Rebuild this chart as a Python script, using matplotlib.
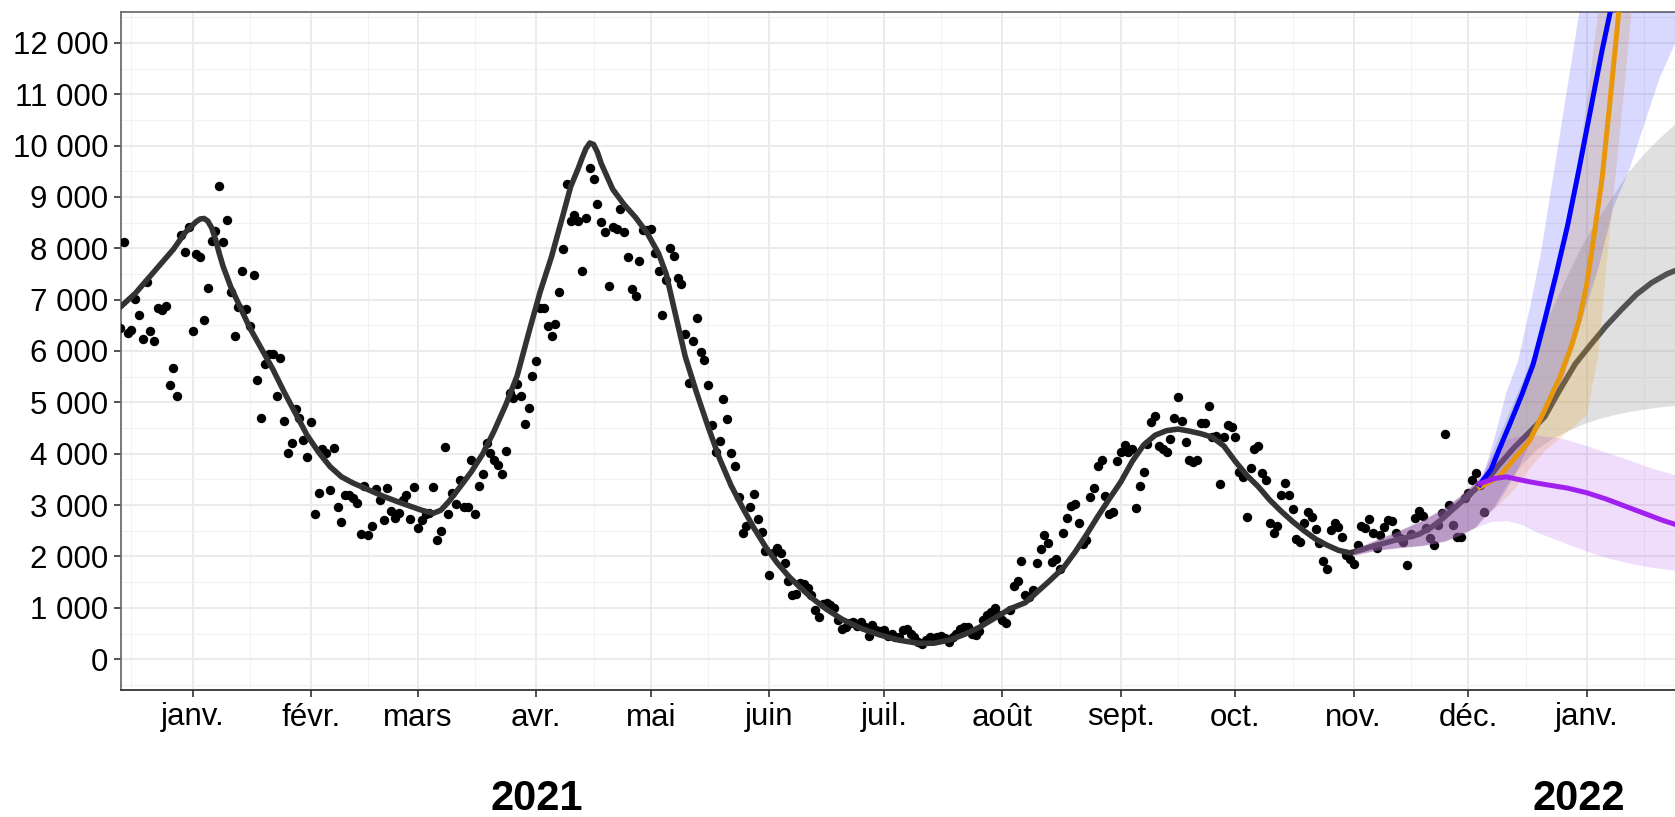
import numpy as np
import pandas as pd
import matplotlib
matplotlib.use("Agg")
import matplotlib.pyplot as plt
import matplotlib.dates as mdates
import matplotlib.transforms as mtransforms
from matplotlib.ticker import FuncFormatter, MultipleLocator

plt.rcParams['font.family'] = ['Liberation Sans', 'DejaVu Sans']

# ---------------- donnees ----------------
# cas quotidiens (un point par jour) a partir du 13/12/2020
debut_cas = '2020-12-13'
cas = [6440, 8120, 6360, 6410, 7010, 6710, 6240, 7340, 6390, 6190,
       6840, 6800, 6880, 5340, 5660, 5130, 8260, 7920, 8410, 6390,
       7880, 7830, 6600, 7220, 8150, 8340, 9220, 8120, 8560, 7150,
       6300, 6860, 7560, 6810, 6480, 7470, 5430, 4690, 5750, 5950,
       5950, 5120, 5860, 4630, 4010, 4200, 4870, 4700, 4260, 3930,
       4620, 2830, 3240, 4090, 4020, 3300, 4110, 2960, 2680,
       3200, 3200, 3130, 3050, 2440, 3380, 2410, 2600, 3320, 3090,
       2710, 3330, 2890, 2750, 2850, 3100, 3200, 2720, 3350, 2560,
       2710, 2830, 2840, 3360, 2320, 2500, 4130, 2830, 3230, 3020,
       3480, 2970, 2960, 3880, 2830, 3370, 3610, 4210, 4020, 3870,
       3780, 3610, 4050, 5190, 5090, 5350, 5120, 4570, 4890, 5520,
       5800, 6840, 6840, 6490, 6290, 6530, 7140, 7980, 9250, 8540,
       8650, 8540, 7560, 8590, 9570, 9350, 8870, 8520, 8320, 7270,
       8420, 8370, 8760, 8310, 7830, 7210, 7080, 7750, 8360, 8360,
       8370, 7910, 7560, 6710, 7380, 8000, 7850, 7430, 7300, 6330,
       5380, 6200, 6640, 5990, 5820, 5340, 4550, 4040, 4250, 5060,
       4680, 4020, 3760, 3160, 2460, 2590, 2970, 3210, 2720, 2480,
       2110, 1640, 2070, 2170, 2070, 1880, 1520, 1240, 1270, 1480,
       1470, 1380, 1250, 950, 830, 1080, 1100, 1060, 990, 760,
       590, 630, 710, 730, 650, 730, 620, 450, 670, 560,
       540, 560, 450, 490, 440, 440, 560, 590, 500, 440,
       340, 300, 380, 440, 410, 440, 450, 410, 340, 440,
       500, 580, 630, 630, 490, 470, 540, 760, 860, 910,
       990, 860, 760, 700, 950, 1430, 1530, 1920, 1250,
       1220, 1350, 1870, 2140, 2410, 2260, 1900, 1950, 1760, 2460,
       2740, 2990, 3020, 2660, 2240, 2320, 3160, 3330, 3770, 3870,
       3180, 2820, 2860, 3860, 4030, 4170, 4030, 4090, 2940, 3370,
       3650, 4180, 4620, 4740, 4160, 4090, 4040, 4290, 4690, 5100,
       4640, 4220, 3880, 3830, 3870, 4590, 4600, 4920, 4320, 4350,
       3410, 4320, 4560, 4530, 4320, 3640, 3540, 2760, 3730, 4090,
       4150, 3620, 3490, 2660, 2460, 2590, 3200, 3430, 3200, 2930,
       2340, 2290, 2660, 2870, 2760, 2540, 2260, 1910, 1750, 2520,
       2660, 2580, 2370, 2030, 1950, 1850, 2220, 2590, 2550, 2720,
       2450, 2160, 2410, 2580, 2710, 2700, 2450, 2350, 2280, 1840,
       2440, 2740, 2880, 2790, 2550, 2350, 2220, 2620, 2850, 4380,
       3000, 2610, 2370, 2370, 3130, 3240, 3490, 3620, 3390, 2870]

# courbe lissee + prolongement (jours depuis le 01/01/2021)
j_lisse = [-20, -15, -10, -5, -2, 0, 1, 2, 3, 4, 5, 6, 7, 8, 10, 12, 15, 18, 21, 24, 27,
           30, 33, 36, 39, 42, 46, 50, 55, 60, 63, 65, 67, 70, 73, 76, 79, 82,
           85, 88, 91, 94, 97, 99, 101, 102, 103, 104, 105, 106, 107, 110, 113, 116, 119,
           122, 124, 126, 129, 132, 135, 138, 141, 144, 147, 150, 153, 156, 159,
           162, 166, 170, 175, 180, 185, 190, 194, 198, 202, 206, 210, 214, 218,
           221, 224, 228, 231, 234, 237, 240, 243, 246, 249, 252, 255, 258, 261,
           264, 267, 270, 273, 276, 279, 282, 285, 288, 291, 294, 297, 300, 303,
           306, 309, 312, 315, 318, 321, 324, 327, 330, 333, 336, 339, 342, 346,
           350, 354, 358, 362, 366, 370, 374, 378, 382, 386, 390]
v_lisse = [6780, 7120, 7550, 7980, 8300, 8450, 8520, 8570, 8580, 8530, 8400, 8180, 7900, 7650,
           7250, 6930, 6450, 6050, 5650, 5200, 4780, 4360, 4030, 3750, 3550, 3430,
           3300, 3170, 3030, 2900, 2840, 2900, 3060, 3350, 3650, 4000, 4450, 4950,
           5520, 6350, 7150, 7840, 8650, 9200, 9560, 9760, 9940, 10050, 10020, 9870, 9650, 9150,
           8850, 8600, 8300, 7900, 7500, 6850, 5890, 5180, 4520, 3900, 3380, 2950,
           2550, 2190, 1880, 1620, 1400, 1200, 970, 780, 600, 470, 370, 310, 310,
           370, 480, 620, 800, 980, 1100, 1300, 1500, 1780, 2080, 2420, 2780, 3120,
           3450, 3850, 4170, 4360, 4450, 4480, 4440, 4390, 4320, 4150, 3850, 3580,
           3360, 3100, 2880, 2680, 2500, 2340, 2220, 2120, 2070, 2130, 2200, 2260,
           2320, 2370, 2430, 2550, 2720, 2920, 3120, 3320, 3500, 3780, 4120, 4420,
           4720, 5250, 5750, 6120, 6480, 6800, 7100, 7330, 7500, 7620]

# scenarios
j_bleu = [337, 340, 342, 345, 348, 351, 354, 357, 360, 363, 366, 369, 372, 375]
v_bleu = [3400, 3700, 4070, 4600, 5150, 5750, 6600, 7500, 8450, 9550, 10700, 11850, 12900, 14000]
j_orange = [337, 342, 346, 350, 354, 358, 361, 363, 365, 367, 369, 371, 373, 375]
v_orange = [3350, 3550, 3900, 4250, 4850, 5500, 6100, 6600, 7300, 8300, 9350, 10800, 12300, 14000]
j_violet = [337, 341, 344, 347, 351, 355, 360, 365, 370, 375, 380, 385, 390]
v_violet = [3420, 3520, 3550, 3500, 3440, 3390, 3330, 3240, 3120, 2980, 2840, 2700, 2580]

# intervalles (commun jusqu'au 02/12)
j_ic_commun = [304, 310, 316, 322, 328, 332, 336]
bas_ic_commun = [2020, 2120, 2170, 2210, 2300, 2420, 2570]
haut_ic_commun = [2130, 2320, 2500, 2700, 2950, 3180, 3450]

j_ic_violet = [340, 344, 348, 352, 358, 364, 370, 376, 382, 390]
bas_ic_violet = [2680, 2700, 2620, 2470, 2300, 2130, 1980, 1870, 1790, 1710]
haut_ic_violet = [3950, 4280, 4360, 4360, 4310, 4180, 4030, 3880, 3720, 3550]

j_ic_bleu = [338, 341, 344, 347, 350, 353, 356, 359, 362, 365, 368, 372, 376, 380, 384, 390]
bas_ic_bleu = [2750, 2950, 3300, 3700, 4200, 4550, 5000, 5500, 6200, 6900, 7600, 8800, 9500, 10400, 11300, 12300]
haut_ic_bleu = [3600, 4350, 5200, 5800, 6800, 7900, 9300, 10700, 12100, 13500, 15000, 17000, 19000, 21000, 23000, 26000]

j_ic_orange = [338, 342, 346, 350, 354, 358, 362, 365, 368, 371, 374, 377, 380]
bas_ic_orange = [2750, 3000, 3300, 3700, 4050, 4300, 4550, 4750, 5900, 8300, 10500, 12800, 15000]
haut_ic_orange = [3500, 3950, 4600, 5400, 6500, 7900, 9400, 10800, 12600, 15000, 18000, 21000, 24000]

j_ic_gris = [338, 340, 344, 348, 352, 356, 360, 364, 368, 372, 376, 380, 384, 390]
bas_ic_gris = [2750, 2900, 3400, 3800, 4100, 4300, 4450, 4580, 4680, 4760, 4820, 4870, 4910, 4960]
haut_ic_gris = [3600, 4000, 4700, 5400, 6150, 6850, 7500, 8100, 8600, 9050, 9500, 9850, 10150, 10550]

mois = ['janv.', 'févr.', 'mars', 'avr.', 'mai', 'juin', 'juil.', 'août',
        'sept.', 'oct.', 'nov.', 'déc.']

# ---------------- figure ----------------
ref = pd.Timestamp('2021-01-01')


def dates(j):
    return ref + pd.to_timedelta(np.array(j, dtype=float), unit='D')


fig = plt.figure(figsize=(16.75, 8.17), dpi=100)
ax = fig.add_axes([120.7 / 1675, 1 - 690 / 817, 1 - 120.7 / 1675, 678 / 817])

d_cas = pd.date_range(debut_cas, periods=len(cas), freq='D')
ax.scatter(d_cas, cas, s=46, color='black', linewidths=0, zorder=3)

ax.plot(dates(j_lisse), v_lisse, color='#333333', lw=4.0, zorder=4,
        solid_joinstyle='round')


def ruban(j, bas, haut, couleur, alpha):
    jj = list(j_ic_commun) + list(j)
    bb = list(bas_ic_commun) + list(bas)
    hh = list(haut_ic_commun) + list(haut)
    ax.fill_between(dates(jj), bb, hh, color=couleur, alpha=alpha,
                    linewidth=0, zorder=5)


ruban(j_ic_gris, bas_ic_gris, haut_ic_gris, '#9a9a9a', 0.3)
ruban(j_ic_orange, bas_ic_orange, haut_ic_orange, '#E8970A', 0.2)
ruban(j_ic_bleu, bas_ic_bleu, haut_ic_bleu, '#0000FF', 0.15)
ruban(j_ic_violet, bas_ic_violet, haut_ic_violet, '#A020F0', 0.15)

ax.plot(dates(j_orange), v_orange, color='#E8970A', lw=3.6, zorder=6)
ax.plot(dates(j_bleu), v_bleu, color='#0000FF', lw=3.6, zorder=6)
ax.plot(dates(j_violet), v_violet, color='#A020F0', lw=3.6, zorder=6)

# axes
ax.set_xlim(dates([-18.8])[0], dates([388.1])[0])
ax.set_ylim(-600, 12600)

ax.xaxis.set_major_locator(mdates.MonthLocator())
ax.xaxis.set_minor_locator(mdates.MonthLocator(bymonthday=16))
ax.xaxis.set_major_formatter(FuncFormatter(lambda x, p: mois[mdates.num2date(x).month - 1]))
ax.yaxis.set_major_locator(MultipleLocator(1000))
ax.yaxis.set_minor_locator(MultipleLocator(500))
ax.yaxis.set_major_formatter(FuncFormatter(lambda y, p: f'{int(y):,}'.replace(',', ' ')))

ax.grid(which='major', color='#EBEBEB', lw=1.4, zorder=0)
ax.grid(which='minor', color='#F2F2F2', lw=0.8, zorder=0)
ax.set_axisbelow(True)

ax.tick_params(axis='both', which='major', labelsize=22.5, length=5, width=1.2,
               color='#333333', labelcolor='black', pad=4)
ax.tick_params(axis='both', which='minor', length=0)

for s in ['left', 'top']:
    ax.spines[s].set_color('#6e6e6e')
    ax.spines[s].set_linewidth(1.3)
ax.spines['bottom'].set_color('#333333')
ax.spines['bottom'].set_linewidth(1.3)
ax.spines['right'].set_visible(False)

tr = mtransforms.blended_transform_factory(ax.transData, ax.transAxes)
ax.text(mdates.date2num(pd.Timestamp('2021-04-01')), -0.161, '2021', transform=tr,
        ha='center', va='center', fontsize=30, fontweight='bold')
ax.text(mdates.date2num(pd.Timestamp('2021-12-30')), -0.161, '2022', transform=tr,
        ha='center', va='center', fontsize=30, fontweight='bold')

fig.savefig('out.png', dpi=100)
